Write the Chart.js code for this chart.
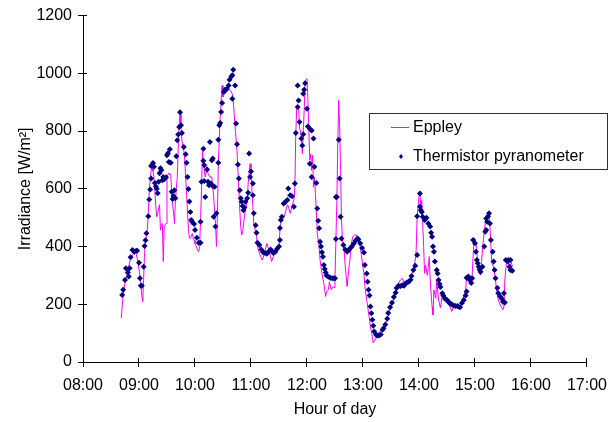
<!DOCTYPE html>
<html lang="en">
<head>
<meta charset="UTF-8" />
<title>Irradiance: Eppley vs Thermistor pyranometer</title>
<script src="https://cdn.jsdelivr.net/npm/chart.js"></script>
<style>
  html, body { margin: 0; padding: 0; background: #fff; }
  canvas { display: block; }
</style>
</head>
<body>
<canvas id="chart" width="616" height="422"></canvas>
<script>
// Eppley reference pyranometer (line)
const eppleyTimes = [
  '08:41','08:43','08:45','08:47','08:49','08:51','08:53','08:55','08:57','08:59',
  '09:01','09:02','09:03','09:04','09:05','09:06','09:07','09:08','09:09','09:10',
  '09:11','09:12','09:13','09:14','09:15','09:16','09:17','09:18','09:19','09:20',
  '09:21','09:22','09:23','09:24','09:25','09:26','09:27','09:28','09:29','09:30',
  '09:31','09:32','09:33','09:34','09:35','09:36','09:37','09:38','09:39','09:40',
  '09:41','09:42','09:43','09:44','09:45','09:46','09:47','09:48','09:49','09:50',
  '09:51','09:52','09:53','09:54','09:55','09:56','09:57','09:58','09:59','10:00',
  '10:01','10:02','10:03','10:04','10:05','10:06','10:07','10:08','10:09','10:11',
  '10:13','10:14','10:16','10:18','10:20','10:22','10:23','10:24','10:25','10:27',
  '10:29','10:30','10:31','10:33','10:36','10:38','10:40','10:41','10:42','10:43',
  '10:45','10:46','10:47','10:48','10:49','10:50','10:51','10:53','10:54','10:56',
  '10:57','10:59','11:00','11:01','11:02','11:03','11:06','11:07','11:09','11:12',
  '11:13','11:15','11:17','11:19','11:21','11:22','11:24','11:26','11:28','11:30',
  '11:31','11:33','11:35','11:37','11:39','11:40','11:42','11:44','11:46','11:47',
  '11:48','11:49','11:51','11:52','11:54','11:55','11:56','11:57','11:58','12:00',
  '12:01','12:02','12:03','12:04','12:05','12:06','12:07','12:08','12:09','12:10',
  '12:11','12:13','12:14','12:16','12:18','12:20','12:21','12:23','12:24','12:26',
  '12:28','12:29','12:30','12:31','12:32','12:33','12:34','12:35','12:36','12:37',
  '12:38','12:40','12:41','12:42','12:43','12:45','12:46','12:47','12:49','12:51',
  '12:53','12:55','12:57','12:59','13:01','13:02','13:04','13:06','13:08','13:10',
  '13:11','13:13','13:15','13:17','13:18','13:21','13:23','13:26','13:29','13:33',
  '13:36','13:38','13:40','13:42','13:44','13:46','13:48','13:51','13:52','13:54',
  '13:56','13:57','13:58','14:00','14:01','14:02','14:03','14:05','14:06','14:07',
  '14:09','14:10','14:11','14:12','14:14','14:15','14:16','14:18','14:19','14:21',
  '14:23','14:25','14:26','14:30','14:33','14:35','14:37','14:41','14:44','14:46',
  '14:48','14:50','14:51','14:53','14:55','14:57','14:58','14:59','15:01','15:02',
  '15:03','15:04','15:06','15:07','15:09','15:11','15:13','15:15','15:16','15:18',
  '15:20','15:22','15:23','15:25','15:27','15:30','15:31','15:32','15:34','15:35',
  '15:37','15:39','15:40'
];
const eppleyValues = [
  152, 232, 275, 300, 330, 360, 370, 385, 375, 345,
  300, 270, 230, 209, 290, 380, 412, 440, 460, 520,
  590, 636, 660, 680, 660, 641, 590, 540, 503, 515,
  530, 545, 457, 470, 480, 348, 470, 475, 480, 641,
  650, 655, 648, 650, 590, 545, 520, 480, 560, 600,
  640, 740, 820, 865, 810, 768, 745, 733, 700, 640,
  580, 520, 460, 430, 428, 435, 445, 430, 422, 410,
  405, 395, 385, 382, 400, 500, 595, 733, 687, 641,
  676, 653, 641, 641, 572, 480, 400, 503, 687, 849,
  958, 918, 940, 935, 947, 940, 929, 906, 860, 814,
  733, 664, 595, 526, 469, 440, 451, 503, 526, 561,
  620, 687, 670, 595, 538, 480, 434, 400, 377, 353,
  360, 385, 411, 390, 365, 348, 365, 388, 380, 400,
  457, 509, 500, 520, 545, 540, 515, 540, 561, 600,
  791, 883, 883, 814, 780, 722, 800, 872, 975, 981,
  906, 803, 699, 720, 664, 716, 607, 640, 584, 526,
  446, 400, 353, 307, 273, 227, 244, 250, 278, 250,
  261, 258, 290, 423, 561, 757, 906, 814, 664, 492,
  423, 377, 330, 296, 261, 330, 353, 400, 434, 440,
  440, 428, 400, 353, 307, 261, 215, 169, 123, 88,
  66, 77, 90, 100, 105, 115, 130, 146, 185, 215,
  250, 273, 284, 290, 275, 282, 278, 285, 300, 325,
  353, 388, 503, 572, 584, 538, 560, 400, 307, 336,
  300, 330, 365, 284, 192, 163, 250, 221, 284, 215,
  187, 233, 215, 204, 198, 175, 190, 198, 187, 210,
  230, 250, 296, 300, 290, 301, 365, 428, 411, 380,
  342, 310, 301, 348, 423, 480, 503, 515, 469, 342,
  330, 284, 250, 215, 198, 181, 192, 284, 353, 355,
  330, 345, 330
];

// Thermistor pyranometer (diamond markers)
const thermTimes = [
  '08:42','08:43','08:45','08:46','08:48','08:49','08:50','08:51','08:53','08:55',
  '08:57','08:58','09:00','09:01','09:02','09:03','09:05','09:06','09:07','09:08',
  '09:10','09:11','09:12','09:13','09:13','09:14','09:15','09:16','09:17','09:18',
  '09:19','09:20','09:21','09:22','09:23','09:24','09:25','09:26','09:27','09:29',
  '09:30','09:31','09:32','09:33','09:34','09:35','09:36','09:37','09:38','09:39',
  '09:40','09:41','09:42','09:43','09:44','09:45','09:46','09:48','09:50','09:51',
  '09:52','09:53','09:54','09:55','09:56','09:57','09:59','10:00','10:02','10:04',
  '10:06','10:06','10:07','10:09','10:09','10:10','10:10','10:11','10:13','10:14',
  '10:15','10:16','10:17','10:18','10:19','10:19','10:20','10:21','10:22','10:23',
  '10:25','10:25','10:26','10:27','10:28','10:29','10:31','10:32','10:34','10:36',
  '10:37','10:39','10:40','10:40','10:41','10:43','10:44','10:45','10:46','10:47',
  '10:48','10:49','10:50','10:51','10:52','10:53','10:54','10:56','10:57','10:58',
  '10:59','11:00','11:02','11:02','11:03','11:05','11:06','11:07','11:09','11:11',
  '11:13','11:15','11:17','11:19','11:21','11:22','11:24','11:26','11:28','11:30',
  '11:31','11:31','11:32','11:33','11:35','11:37','11:39','11:40','11:42','11:44',
  '11:46','11:47','11:48','11:50','11:50','11:51','11:52','11:54','11:55','11:56',
  '11:56','11:57','11:58','12:00','12:01','12:03','12:03','12:05','12:05','12:07',
  '12:08','12:10','12:11','12:12','12:13','12:14','12:15','12:16','12:17','12:18',
  '12:19','12:20','12:21','12:23','12:25','12:27','12:29','12:30','12:31','12:31',
  '12:32','12:34','12:35','12:36','12:37','12:39','12:41','12:43','12:45','12:46',
  '12:48','12:50','12:52','12:54','12:55','12:57','12:59','13:01','13:02','13:04',
  '13:05','13:06','13:07','13:08','13:09','13:10','13:11','13:12','13:14','13:15',
  '13:17','13:19','13:21','13:22','13:24','13:26','13:27','13:29','13:31','13:33',
  '13:35','13:36','13:38','13:40','13:42','13:44','13:45','13:47','13:49','13:51',
  '13:52','13:54','13:56','13:58','13:58','14:01','14:01','14:02','14:03','14:04',
  '14:06','14:07','14:08','14:10','14:12','14:13','14:14','14:15','14:16','14:17',
  '14:19','14:20','14:21','14:22','14:23','14:25','14:26','14:28','14:30','14:32',
  '14:33','14:35','14:37','14:39','14:41','14:42','14:44','14:46','14:48','14:50',
  '14:51','14:51','14:53','14:54','14:56','14:57','14:58','15:00','15:01','15:02',
  '15:03','15:04','15:05','15:06','15:08','15:10','15:11','15:12','15:12','15:13',
  '15:14','15:15','15:16','15:17','15:19','15:20','15:21','15:22','15:24','15:25',
  '15:27','15:29','15:30','15:31','15:32','15:33','15:35','15:36','15:37','15:38',
  '15:38','15:40'
];
const thermValues = [
  232, 250, 284, 325, 310, 296, 325, 363, 388, 382,
  385, 385, 344, 290, 264, 264, 330, 402, 422, 446,
  505, 563, 598, 636, 679, 682, 689, 676, 620, 608,
  600, 585, 624, 654, 671, 664, 630, 641, 633, 640,
  716, 723, 693, 737, 690, 590, 565, 575, 595, 567,
  713, 768, 788, 814, 865, 820, 793, 745, 720, 690,
  641, 599, 556, 520, 492, 485, 478, 457, 430, 413,
  413, 486, 624, 739, 697, 682, 627, 572, 667, 624,
  612, 762, 618, 699, 705, 610, 503, 607, 469, 515,
  690, 770, 820, 828, 866, 897, 935, 943, 946, 958,
  978, 989, 993, 912, 1012, 958, 826, 754, 684, 636,
  595, 567, 555, 540, 526, 535, 555, 567, 586, 722,
  641, 660, 618, 578, 515, 474, 448, 413, 405, 390,
  380, 378, 375, 383, 390, 385, 378, 382, 392, 400,
  423, 464, 492, 503, 549, 555, 561, 601, 578, 574,
  538, 618, 793, 883, 958, 906, 831, 774, 750, 789,
  929, 943, 966, 877, 816, 687, 808, 641, 802, 774,
  676, 620, 532, 489, 463, 417, 400, 380, 365, 336,
  322, 310, 300, 295, 292, 290, 290, 290, 426, 572,
  572, 770, 636, 503, 428, 405, 390, 382, 388, 393,
  400, 410, 420, 428, 425, 411, 395, 379, 336, 307,
  278, 250, 230, 192, 169, 146, 126, 106, 94, 92,
  92, 95, 112, 117, 130, 150, 170, 190, 205, 225,
  240, 256, 264, 262, 266, 264, 270, 275, 278, 285,
  298, 319, 333, 371, 505, 584, 538, 526, 520, 503,
  492, 495, 500, 480, 469, 448, 434, 400, 382, 348,
  319, 307, 284, 270, 260, 238, 230, 220, 215, 208,
  203, 200, 196, 194, 194, 192, 190, 204, 215, 230,
  244, 292, 296, 285, 274, 290, 423, 411, 382, 353,
  342, 330, 320, 313, 330, 400, 451, 457, 497, 486,
  505, 515, 480, 423, 382, 348, 319, 290, 256, 238,
  227, 218, 209, 238, 206, 353, 348, 353, 330, 319,
  353, 316
];

// clock string -> decimal hour
function toHours(t) {
  const [h, m] = t.split(':').map(Number);
  return h + m / 60;
}

const eppleyPoints = eppleyTimes.map((t, i) => ({ x: toHours(t), y: eppleyValues[i] }));
const thermPoints = thermTimes.map((t, i) => ({ x: toHours(t), y: thermValues[i] }));

// small tick marks that poke inside the plot, like the original axes
const innerTicks = {
  id: 'innerTicks',
  afterDraw(chart) {
    const { ctx, chartArea, scales: { x, y } } = chart;
    ctx.save();
    ctx.strokeStyle = '#000';
    ctx.lineWidth = 1;
    ctx.beginPath();
    x.ticks.forEach(t => {
      const px = Math.round(x.getPixelForValue(t.value) - 0.5) + 0.5;
      ctx.moveTo(px, chartArea.bottom);
      ctx.lineTo(px, chartArea.bottom - 4);
    });
    y.ticks.forEach(t => {
      const py = Math.round(y.getPixelForValue(t.value) - 0.5) + 0.5;
      ctx.moveTo(chartArea.left, py);
      ctx.lineTo(chartArea.left + 4, py);
    });
    ctx.stroke();
    ctx.restore();
  }
};

// boxed legend floating at the right of the plot
const legendBox = {
  id: 'legendBox',
  afterDraw(chart) {
    const ctx = chart.ctx;
    ctx.save();
    ctx.fillStyle = '#fff';
    ctx.fillRect(369.5, 113.5, 238, 56);
    ctx.strokeStyle = '#333';
    ctx.lineWidth = 1;
    ctx.strokeRect(369.5, 113.5, 238, 56);

    ctx.strokeStyle = '#ff00ff';
    ctx.beginPath();
    ctx.moveTo(391, 127.5);
    ctx.lineTo(409, 127.5);
    ctx.stroke();

    ctx.fillStyle = '#000080';
    ctx.beginPath();
    ctx.moveTo(401, 154);
    ctx.lineTo(403, 156.5);
    ctx.lineTo(401, 159);
    ctx.lineTo(399, 156.5);
    ctx.closePath();
    ctx.fill();

    ctx.fillStyle = '#000';
    ctx.font = '16px "Liberation Sans", Arial, sans-serif';
    ctx.textBaseline = 'middle';
    ctx.textAlign = 'left';
    ctx.fillText('Eppley', 413, 128);
    ctx.fillText('Thermistor pyranometer', 413, 157);
    ctx.restore();
  }
};

Chart.defaults.font.family = '"Liberation Sans", Arial, sans-serif';
Chart.defaults.font.size = 16;
Chart.defaults.color = '#000';

new Chart(document.getElementById('chart').getContext('2d'), {
  type: 'scatter',
  data: {
    datasets: [
      {
        label: 'Eppley',
        data: eppleyPoints,
        showLine: true,
        borderColor: '#ff00ff',
        borderWidth: 1,
        pointRadius: 0,
        tension: 0,
        order: 1
      },
      {
        label: 'Thermistor pyranometer',
        data: thermPoints,
        showLine: false,
        pointStyle: 'rectRot',
        pointRadius: 3,
        backgroundColor: '#000080',
        borderColor: '#000080',
        borderWidth: 0,
        order: 0
      }
    ]
  },
  options: {
    responsive: false,
    devicePixelRatio: 1,
    animation: false,
    layout: { padding: { top: 15, right: 29, left: 0, bottom: 0 } },
    scales: {
      x: {
        type: 'linear',
        min: 8,
        max: 17,
        afterFit: s => { s.height = 60; },
        ticks: {
          stepSize: 1,
          padding: 9,
          maxRotation: 0,
          autoSkip: false,
          callback: v => String(v).padStart(2, '0') + ':00'
        },
        grid: { drawOnChartArea: false, color: '#000', tickLength: 5 },
        border: { color: '#000' },
        title: { display: true, text: 'Hour of day', padding: { top: 0, bottom: 3 } }
      },
      y: {
        min: 0,
        max: 1200,
        afterFit: s => { s.width = 83; },
        ticks: { stepSize: 200, padding: 6, callback: v => String(v) },
        grid: { drawOnChartArea: false, color: '#000', tickLength: 5 },
        border: { color: '#000' },
        title: { display: true, text: 'Irradiance [W/m²]', padding: { top: 16, bottom: 0 } }
      }
    },
    plugins: {
      legend: { display: false },
      tooltip: { enabled: false }
    }
  },
  plugins: [innerTicks, legendBox]
});
</script>
</body>
</html>
